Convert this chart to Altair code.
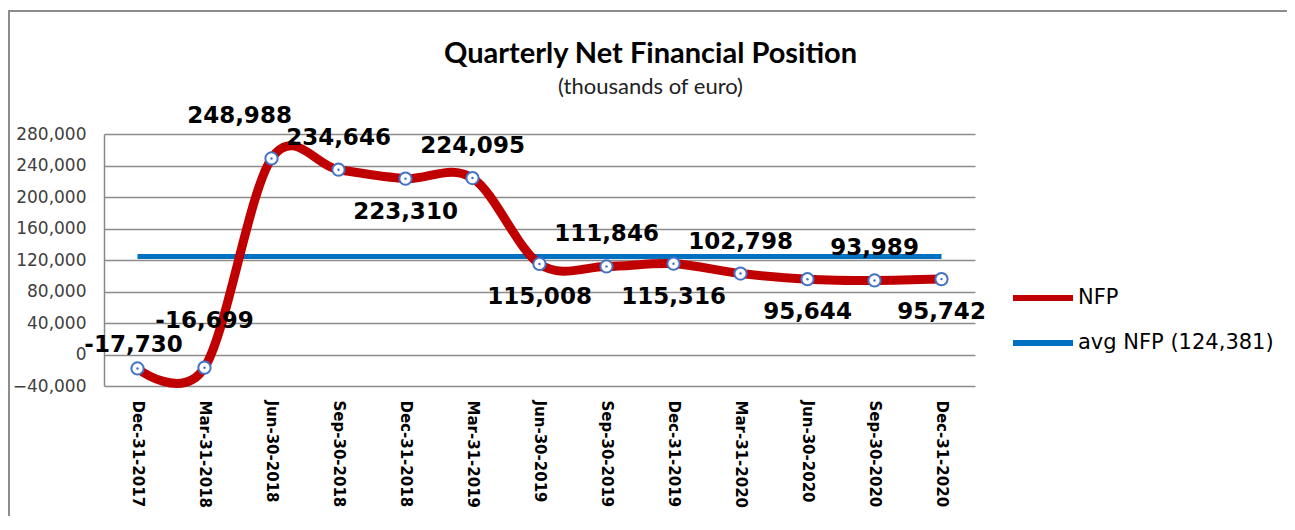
import altair as alt
import pandas as pd

quarters = ["Dec-31-2017", "Mar-31-2018", "Jun-30-2018", "Sep-30-2018", "Dec-31-2018",
            "Mar-31-2019", "Jun-30-2019", "Sep-30-2019", "Dec-31-2019", "Mar-31-2020",
            "Jun-30-2020", "Sep-30-2020", "Dec-31-2020"]
nfp = [-17730, -16699, 248988, 234646, 223310, 224095, 115008, 111846, 115316,
       102798, 95644, 93989, 95742]
avg_nfp = 124381
label_side = ["lowleft", "high", "left", "above", "below", "above", "below",
              "above", "below", "above", "below", "above", "below"]
series_names = ["NFP", "avg NFP (124,381)"]
y_ticks = [-40000, 0, 40000, 80000, 120000, 160000, 200000, 240000, 280000]

df = pd.DataFrame({"quarter": quarters, "value": nfp, "side": label_side,
                   "series": series_names[0]})
df["label"] = df["value"].map(lambda v: f"{v:,}")
avg_df = pd.DataFrame({"quarter": quarters, "value": [avg_nfp] * len(quarters),
                       "series": series_names[1]})

x = alt.X("quarter:N", sort=quarters, title=None,
          axis=alt.Axis(labelAngle=90, labelFont="DejaVu Sans", labelFontWeight="bold",
                        labelFontSize=15, labelColor="#000000", labelPadding=14,
                        ticks=False, domain=False, labelBaseline="middle", labelAlign="left"))
y = alt.Y("value:Q", title=None,
          scale=alt.Scale(domain=[-40000, 280000], nice=False),
          axis=alt.Axis(values=y_ticks, format=",.0f", labelFont="DejaVu Sans",
                        labelFontSize=17, labelColor="#404040", ticks=False,
                        domainColor="#888888", domainWidth=1.5,
                        gridColor="#8c8c8c", gridWidth=1.5, labelPadding=18))
color = alt.Color("series:N", scale=alt.Scale(domain=series_names,
                                              range=["#C00000", "#0070C0"]),
                  legend=alt.Legend(title=None, orient="none", legendX=906, legendY=131,
                                    symbolType="stroke", symbolSize=3600,
                                    symbolStrokeWidth=6, labelFont="DejaVu Sans",
                                    labelFontSize=21, labelColor="#000000",
                                    rowPadding=-10, labelOffset=2, labelLimit=0))

frame = alt.Chart(pd.DataFrame({"quarter": quarters[:1]})).mark_rect(
    fill=None, stroke="#8c8c8c", strokeWidth=2).encode(
    x=alt.value(-95), x2=alt.value(1200), y=alt.value(-123), y2=alt.value(430))
avg_line = alt.Chart(avg_df).mark_line(strokeWidth=5).encode(x=x, y=y, color=color)
nfp_line = alt.Chart(df).mark_line(strokeWidth=9, interpolate="cardinal").encode(
    x=x, y=y, color=color)
points = alt.Chart(df).mark_point(shape="circle", filled=True, fill="white",
                                  stroke="#4472C4", strokeWidth=2, size=150,
                                  opacity=1).encode(x=x, y=y)
dots = alt.Chart(df).mark_point(shape="circle", filled=True, color="#4472C4",
                                size=6, opacity=1).encode(x=x, y=y)

text_common = dict(font="DejaVu Sans", fontWeight="bold", fontSize=23,
                   color="#000000", baseline="middle")
offsets = {"above": (0, -32), "below": (0, 33), "high": (0, -47),
           "left": (-32, -42), "lowleft": (-4, -23)}
label_layers = [
    alt.Chart(df).transform_filter(alt.datum.side == side).mark_text(
        dx=dx, dy=dy, **text_common).encode(x=x, y=y, text="label:N")
    for side, (dx, dy) in offsets.items()
]

chart = alt.layer(frame, avg_line, nfp_line, points, dots, *label_layers).properties(
    width=871, height=252,
    autosize=alt.AutoSizeParams(type="none"),
    padding={"left": 96, "top": 126, "right": 312, "bottom": 130},
    title=alt.TitleParams(text="Quarterly Net Financial  Position",
                          subtitle="(thousands of euro)",
                          font="Lato", fontSize=29, fontWeight="bold", color="#000000",
                          subtitleFont="Lato", subtitleFontSize=22,
                          subtitleColor="#222222", subtitlePadding=8,
                          anchor="middle", dx=111, offset=-88),
).configure_view(stroke=None).configure_axisX(grid=False)

chart.save("out.html", embed_options={"renderer": "svg", "actions": False})
